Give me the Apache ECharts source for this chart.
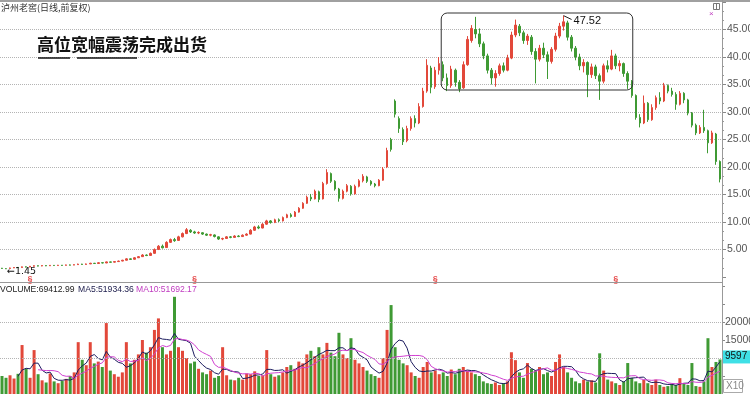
<!DOCTYPE html>
<html><head><meta charset="utf-8">
<script src="https://cdn.jsdelivr.net/npm/echarts@6/dist/echarts.min.js"></script>
<style>html,body{margin:0;padding:0;background:#fff}#c{width:750px;height:394px}</style>
</head><body><div id="c"></div>
<script>
// daily candles: [open, close, low, high]
const ohlc = [
[1.60,1.55,1.50,1.65],[1.52,1.50,1.45,1.58],[1.55,1.65,1.52,1.70],[1.65,1.72,1.62,1.78],[1.75,1.70,1.66,1.80],
[1.72,1.85,1.70,1.90],[1.85,1.80,1.75,1.92],[1.80,1.95,1.78,2.00],[1.95,2.05,1.90,2.10],[2.05,1.98,1.94,2.10],
[2.00,2.08,1.96,2.12],[2.08,2.02,1.98,2.12],[2.04,2.12,2.00,2.18],[2.12,2.08,2.04,2.16],[2.08,2.15,2.05,2.20],
[2.15,2.10,2.06,2.18],[2.12,2.20,2.08,2.25],[2.20,2.15,2.12,2.26],[2.16,2.25,2.14,2.30],[2.25,2.35,2.20,2.42],
[2.35,2.28,2.22,2.40],[2.28,2.38,2.25,2.45],[2.38,2.50,2.35,2.58],[2.50,2.45,2.40,2.56],[2.45,2.60,2.42,2.68],
[2.60,2.55,2.48,2.66],[2.55,2.75,2.52,2.82],[2.75,2.68,2.62,2.80],[2.70,2.80,2.65,2.86],[2.80,2.90,2.76,2.98],
[2.90,3.05,2.86,3.12],[3.05,3.30,3.00,3.40],[3.30,3.20,3.10,3.38],[3.22,3.50,3.18,3.60],[3.50,3.70,3.45,3.80],
[3.70,4.00,3.65,4.15],[4.00,3.90,3.80,4.10],[3.92,4.30,3.88,4.45],[4.30,5.00,4.25,5.20],[5.00,5.60,4.90,5.80],
[5.60,5.30,5.20,5.90],[5.35,6.30,5.30,6.50],[6.30,6.80,6.20,7.00],[6.80,6.60,6.40,7.10],[6.65,7.30,6.60,7.50],
[7.30,7.90,7.20,8.10],[7.90,8.60,7.80,8.90],[8.50,8.20,8.00,8.70],[8.20,8.00,7.85,8.40],[8.00,8.10,7.80,8.30],
[8.05,7.80,7.65,8.15],[7.80,7.60,7.45,7.90],[7.60,7.70,7.40,7.85],[7.65,7.35,7.20,7.75],[7.30,6.90,6.75,7.40],
[6.90,7.00,6.70,7.15],[7.00,7.30,6.95,7.45],[7.30,7.20,7.05,7.45],[7.20,7.45,7.15,7.60],[7.45,7.35,7.25,7.60],
[7.35,7.60,7.30,7.75],[7.60,7.80,7.50,7.95],[7.80,8.50,7.75,8.70],[8.50,9.10,8.40,9.30],[9.10,8.90,8.70,9.40],
[8.90,9.60,8.85,9.80],[9.60,10.20,9.50,10.40],[10.20,9.90,9.70,10.35],[9.90,10.40,9.80,10.60],[10.40,10.20,10.00,10.65],
[10.20,10.80,10.10,11.00],[10.80,11.30,10.70,11.50],[11.30,11.00,10.80,11.60],[11.00,11.80,10.95,12.00],[11.80,12.50,11.70,12.70],
[12.50,13.40,12.40,13.60],[13.40,14.50,13.30,14.80],[14.50,14.20,13.80,15.10],[14.20,15.60,14.10,15.90],[15.50,14.10,13.60,15.70],
[14.20,17.00,14.10,17.30],[17.00,19.00,16.80,19.60],[18.80,17.40,17.10,19.00],[17.40,16.00,15.70,17.60],[16.00,14.30,13.70,16.20],
[14.30,15.60,14.10,15.90],[15.60,16.60,15.40,16.90],[16.50,15.10,14.80,16.70],[15.10,16.50,15.00,16.80],[16.50,17.50,16.30,17.80],
[17.50,18.30,17.20,18.70],[18.20,17.40,17.10,18.40],[17.40,16.90,16.60,17.60],[16.90,16.60,16.30,17.10],[16.60,17.60,16.50,17.80],
[17.60,19.60,17.50,20.00],[20.00,23.00,19.80,23.50],[25.00,23.20,22.80,25.30],[32.00,29.60,29.00,32.30],[28.80,27.00,26.20,29.20],
[26.80,24.60,24.00,27.20],[24.80,27.00,24.50,27.50],[27.00,28.80,26.60,29.20],[28.80,28.00,27.20,29.40],[28.00,31.00,27.80,31.60],
[31.00,33.80,30.80,34.40],[33.80,38.50,33.50,39.60],[38.00,34.50,33.40,38.40],[34.60,37.60,34.20,38.20],[37.60,38.80,36.80,40.00],
[38.60,36.20,35.60,39.20],[36.20,34.80,33.80,37.00],[34.80,37.80,34.40,38.40],[37.60,35.40,34.60,37.90],[35.40,34.20,33.60,35.80],
[34.40,38.60,34.20,39.20],[38.60,43.20,38.40,43.80],[43.00,45.20,42.60,45.80],[45.00,44.20,43.40,47.30],[44.20,42.40,41.80,45.20],
[42.40,40.20,39.60,42.80],[40.20,37.60,37.00,40.60],[37.60,36.20,35.00,38.00],[36.20,37.00,34.60,37.60],[37.00,38.40,36.60,38.80],
[38.40,37.60,37.20,39.00],[37.60,39.80,37.40,40.40],[39.80,44.00,39.60,44.60],[44.00,45.80,43.60,46.80],[45.60,44.40,43.80,46.00],
[44.40,43.00,42.40,44.80],[43.00,43.80,42.20,44.20],[43.60,41.00,40.40,44.00],[41.00,39.60,35.20,41.60],[39.60,41.60,39.20,42.20],
[41.60,40.40,39.80,42.60],[40.40,39.20,36.00,41.00],[39.20,41.40,38.80,41.80],[41.40,43.80,41.00,44.40],[43.80,45.60,43.40,46.20],
[45.60,46.40,44.80,47.52],[46.20,43.60,43.00,46.60],[43.60,41.60,41.00,44.00],[41.60,40.00,39.40,42.00],[40.00,38.40,37.60,40.60],
[38.40,39.00,37.20,39.60],[39.00,36.80,32.70,39.20],[36.80,38.20,36.20,38.80],[38.20,36.60,36.00,38.60],[36.60,35.60,32.20,37.00],
[35.60,38.40,35.20,38.80],[38.40,37.80,37.20,39.40],[37.80,40.20,37.60,41.30],[40.20,38.40,37.80,40.60],[38.40,38.80,37.40,39.40],
[38.80,37.00,36.40,39.00],[37.00,35.60,34.20,37.40],[35.60,33.00,32.60,35.80],[33.00,29.00,28.60,33.20],[29.00,28.00,27.20,29.60],
[28.00,31.60,27.80,33.00],[31.60,28.60,28.20,31.80],[28.60,30.80,28.40,31.40],[30.80,32.60,30.40,33.00],[32.60,32.00,31.40,33.60],
[32.00,34.80,31.80,35.30],[34.80,33.80,33.40,35.00],[33.80,33.20,32.80,34.40],[33.20,31.40,30.40,33.60],[31.40,33.40,31.20,33.80],
[33.40,32.20,31.60,33.60],[32.20,29.80,29.40,32.40],[29.80,27.60,27.20,30.00],[27.60,26.20,25.80,27.90],[26.20,27.20,26.00,27.60],
[27.20,26.60,26.20,30.40],[26.60,24.40,22.50,26.80],[24.40,26.20,24.20,26.60],[26.00,21.00,20.40,26.20],[21.00,17.80,17.20,21.20]
];
// daily volume (axis units, X10)
const volume = [
5000,4500,5200,4300,5600,13600,7000,4500,12200,5500,
3800,3200,5700,3500,3000,3600,4200,5000,6000,14400,
9500,8000,14400,8500,9000,7500,19700,6500,5500,4800,
6000,14400,8500,9500,11000,15000,11500,13000,17800,21000,
13000,11000,12000,27000,13000,12000,10000,8500,9000,7000,
6000,5500,6500,4500,5000,13000,5200,4000,3800,4500,
4000,5700,5500,6300,5000,5200,12200,5500,4800,5200,
6000,7500,8000,7000,9000,8500,11000,12000,10500,13000,
11000,14200,11500,10500,17000,11000,10000,15500,9500,8500,
7500,6500,5500,5000,4500,10000,17800,24700,13000,9500,
8500,8000,6000,5000,4500,7500,8900,6000,6500,5500,
6000,5000,6800,5500,7000,7500,6500,6000,5500,5000,
3500,3000,2800,3200,2500,3000,3500,11600,9400,6000,
4500,8600,7000,6500,7500,5500,6000,5000,8900,11000,
7500,6000,4500,3500,3000,4000,3500,3800,3200,11300,
6500,4000,3500,3000,2500,3500,8600,4500,3500,3000,
3900,3000,2500,4000,2500,2000,2200,2800,2500,4400,
3000,2500,8600,2200,2000,3500,15500,7500,8900,9597
];
const exRightDays = [7, 48, 108, 153];
const boxDays = [109, 157];
const boxPrices = [34, 48];
const volumeGridValues = [10000, 20000];
const volumeHeader = ['VOLUME:69412.99', 'MA5:51934.36', 'MA10:51692.17'];
const titleText = '高位宽幅震荡完成出货';
const stockText = '泸州老窖(日线,前复权)';

const upColor = '#e2483a', downColor = '#3f9a34';
const days = ohlc.map((_, i) => 'D' + (i + 1));
function movingAverage(arr, n) {
  return arr.map((v, i) => {
    if (i < n - 1) return '-';
    let s = 0; for (let k = i - n + 1; k <= i; k++) s += arr[k];
    return +(s / n).toFixed(1);
  });
}
const ma5 = movingAverage(volume, 5), ma10 = movingAverage(volume, 10);
const isUp = i => ohlc[i][1] >= ohlc[i][0];
let hiIdx = 0; ohlc.forEach((d, i) => { if (d[3] > ohlc[hiIdx][3]) hiIdx = i; });
const hiVal = ohlc[hiIdx][3];
const FONT = 'Liberation Sans, Arial, sans-serif';

const chart = echarts.init(document.getElementById('c'));
chart.setOption({
  animation: false,
  grid: [
    {left: 0, right: 28, top: 2, height: 275, outerBoundsMode: 'none', containLabel: false},
    {left: 0, right: 28, top: 286, bottom: 0, outerBoundsMode: 'none', containLabel: false}
  ],
  xAxis: [
    {type: 'category', data: days, gridIndex: 0, show: false},
    {type: 'category', data: days, gridIndex: 1, show: false}
  ],
  yAxis: [
    {type: 'value', gridIndex: 0, position: 'right', min: 0, max: 50, interval: 5,
     axisLine: {show: false},
     axisTick: {show: true, length: 4, lineStyle: {color: '#888'}},
     minorTick: {show: true, splitNumber: 3, length: 2, lineStyle: {color: '#999'}},
     axisLabel: {margin: 5, color: '#555', fontSize: 10.5, fontFamily: FONT,
       formatter: v => (v > 0 && v < 50) ? v.toFixed(2) : ''},
     splitLine: {show: true, showMinLine: false, showMaxLine: false, lineStyle: {color: '#b4b4b4', type: 'dotted'}}},
    {type: 'value', gridIndex: 1, position: 'right', min: 0, max: 30000, interval: 5000,
     axisLine: {show: false},
     axisTick: {show: true, length: 3, lineStyle: {color: '#888'}},
     axisLabel: {margin: 3, color: '#555', fontSize: 10.5, fontFamily: FONT,
       formatter: v => (v >= 10000 && v <= 20000) ? String(v) : ''},
     splitLine: {show: false}}
  ],
  series: [
    {type: 'candlestick', xAxisIndex: 0, yAxisIndex: 0, data: ohlc, barWidth: 2,
     itemStyle: {color: upColor, color0: downColor, borderColor: upColor, borderColor0: downColor, borderWidth: 1},
     markPoint: {symbol: 'circle', symbolSize: 0,
       label: {color: '#111', fontSize: 10, fontFamily: FONT},
       data: [
         {type: 'min', valueDim: 'lowest', label: {position: 'right', distance: 1, offset: [0, 3], fontFamily: 'DejaVu Sans, sans-serif', fontSize: 9.5, formatter: p => '←' + p.value}},
         {type: 'max', valueDim: 'highest', label: {position: 'right', distance: 10, offset: [0, 5], fontSize: 11, formatter: p => String(p.value)}}
       ]},
     markLine: {symbol: 'none', silent: true, label: {show: false}, lineStyle: {color: '#222', width: 1, type: 'solid'},
       data: [[{coord: [hiIdx, hiVal]}, {coord: [hiIdx + 2, hiVal - 0.7]}]]}
    },
    {type: 'scatter', xAxisIndex: 0, yAxisIndex: 0, symbolSize: 0, clip: false,
     data: exRightDays.map(d => [d, 0]),
     label: {show: true, position: 'inside', offset: [0, 3], formatter: '§', color: '#e02020', fontSize: 9, fontWeight: 'bold'}},
    {type: 'bar', xAxisIndex: 1, yAxisIndex: 1, data: volume, barWidth: 3,
     itemStyle: {color: p => isUp(p.dataIndex) ? upColor : downColor},
     markLine: {symbol: 'none', silent: true, label: {show: false},
       lineStyle: {color: '#b4b4b4', type: 'dotted', width: 1},
       data: volumeGridValues.map(v => ({yAxis: v}))}},
    {type: 'line', xAxisIndex: 1, yAxisIndex: 1, data: ma5, showSymbol: false, lineStyle: {color: '#1c1c5e', width: 1}},
    {type: 'line', xAxisIndex: 1, yAxisIndex: 1, data: ma10, showSymbol: false, lineStyle: {color: '#d040d0', width: 1}}
  ]
});

const px = (i, v) => chart.convertToPixel({xAxisIndex: 0, yAxisIndex: 0}, [i, v]);
const pA = px(boxDays[0], boxPrices[1]), pA2 = px(boxDays[0] + 1, boxPrices[1]);
const pB = px(boxDays[1], boxPrices[0]);
const bx1 = (pA[0] + pA2[0]) / 2, by1 = pA[1], bx2 = pB[0] + 1, by2 = pB[1];
const lastVol = volume[volume.length - 1];
const lvY = chart.convertToPixel({xAxisIndex: 1, yAxisIndex: 1}, [volume.length - 1, lastVol])[1];

chart.setOption({
  graphic: [
    {type: 'line', z: 100, shape: {x1: 0, y1: 1, x2: 750, y2: 1}, style: {stroke: '#a0a0a0', lineWidth: 2}},
    {type: 'line', z: 100, shape: {x1: 722.5, y1: 0, x2: 722.5, y2: 394}, style: {stroke: '#999', lineWidth: 1}},
    {type: 'line', z: 100, shape: {x1: 0, y1: 282.5, x2: 722, y2: 282.5}, style: {stroke: '#999', lineWidth: 1}},
    {type: 'text', z: 100, left: 1, top: 3, style: {text: stockText, fill: '#333', font: '9px "Noto Sans CJK SC", sans-serif'}},
    {type: 'text', z: 100, left: 37, top: 36, style: {text: titleText, fill: '#111', font: 'bold 17px "Noto Sans CJK SC", sans-serif'}},
    {type: 'line', z: 100, shape: {x1: 38, y1: 58, x2: 70, y2: 58}, style: {stroke: '#111', lineWidth: 1.5}},
    {type: 'line', z: 100, shape: {x1: 77, y1: 58, x2: 137, y2: 58}, style: {stroke: '#111', lineWidth: 1.5}},
    {type: 'rect', z: 100, shape: {x: bx1, y: by1, width: bx2 - bx1, height: by2 - by1, r: 6}, style: {fill: 'none', stroke: '#333', lineWidth: 1}},
    {type: 'text', z: 100, x: 0, y: 285, style: {text: volumeHeader[0], fill: '#222', font: '8.6px ' + FONT}},
    {type: 'text', z: 100, x: 78, y: 285, style: {text: volumeHeader[1], fill: '#222250', font: '8.6px ' + FONT}},
    {type: 'text', z: 100, x: 136, y: 285, style: {text: volumeHeader[2], fill: '#c03cc0', font: '8.6px ' + FONT}},
    {type: 'rect', z: 100, shape: {x: 723, y: lvY - 9, width: 27, height: 13}, style: {fill: '#3fe0e6'}},
    {type: 'text', z: 101, x: 725, y: lvY - 8, style: {text: String(lastVol), fill: '#111', font: '10px ' + FONT}},
    {type: 'rect', z: 100, shape: {x: 723.5, y: 379.5, width: 19, height: 13}, style: {fill: '#fff', stroke: '#aaa', lineWidth: 1}},
    {type: 'text', z: 101, x: 726, y: 381, style: {text: 'X10', fill: '#888', font: '10px ' + FONT}},
    {type: 'rect', z: 100, shape: {x: 713.5, y: 3.5, width: 6, height: 6}, style: {fill: 'none', stroke: '#777', lineWidth: 1}},
    {type: 'line', z: 100, shape: {x1: 716.5, y1: 3.5, x2: 716.5, y2: 9.5}, style: {stroke: '#777', lineWidth: 1}},
    {type: 'text', z: 100, x: 709, y: 10, style: {text: '×', fill: '#c040c0', font: '8px ' + FONT}}
  ]
});
</script></body></html>
